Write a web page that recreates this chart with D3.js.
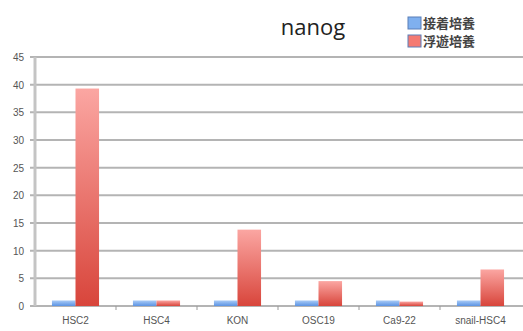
<!DOCTYPE html>
<html>
<head>
<meta charset="utf-8">
<script src="https://cdn.jsdelivr.net/npm/d3@7"></script>
<style>
  body { margin: 0; background: #fff; }
  svg text { font-family: "Liberation Sans", "Noto Sans CJK JP", sans-serif; }
</style>
</head>
<body>
<div id="chart"></div>
<script>
const categories = ['HSC2', 'HSC4', 'KON', 'OSC19', 'Ca9-22', 'snail-HSC4'];
const seriesNames = ['接着培養', '浮遊培養'];
const adherent = [1, 1, 1, 1, 1, 1];
const floating = [39.3, 1, 13.8, 4.5, 0.8, 6.6];
const yTicks = [0, 5, 10, 15, 20, 25, 30, 35, 40, 45];

const width = 523, height = 331;
const margin = { top: 57, right: 2, bottom: 25, left: 35 };

let svg = d3.select('#chart').append('svg')
    .attr('width', width)
    .attr('height', height);

let defs = svg.append('defs');
let gradients = [
    { id: 'grad-blue', top: '#a9cbf7', bottom: '#5b93e3' },
    { id: 'grad-red', top: '#fba6a2', bottom: '#d8453b' }
];
gradients.forEach(g => {
    let lg = defs.append('linearGradient')
        .attr('id', g.id)
        .attr('x1', 0).attr('y1', 0).attr('x2', 0).attr('y2', 1);
    lg.append('stop').attr('offset', '0%').attr('stop-color', g.top);
    lg.append('stop').attr('offset', '100%').attr('stop-color', g.bottom);
});

let x = d3.scaleBand()
    .domain(categories)
    .range([margin.left, width - margin.right])
    .paddingInner(0)
    .paddingOuter(0);

let xInner = d3.scaleBand()
    .domain(seriesNames)
    .range([0, x.bandwidth()])
    .paddingOuter(0.72)
    .paddingInner(0);

let y = d3.scaleLinear()
    .domain([0, 45])
    .range([height - margin.bottom, margin.top]);

// gridlines
svg.append('g')
    .selectAll('line')
    .data(yTicks)
    .enter()
    .append('line')
    .attr('x1', margin.left - 5)
    .attr('x2', width)
    .attr('y1', d => y(d))
    .attr('y2', d => y(d))
    .attr('stroke', '#b4b4b4')
    .attr('stroke-width', 2);

// y axis line
svg.append('line')
    .attr('x1', margin.left).attr('x2', margin.left)
    .attr('y1', y(45)).attr('y2', y(0))
    .attr('stroke', '#c4c4c4')
    .attr('stroke-width', 3);

// y tick labels
svg.append('g')
    .selectAll('text')
    .data(yTicks)
    .enter()
    .append('text')
    .attr('x', 24)
    .attr('y', d => y(d) + 4)
    .attr('text-anchor', 'end')
    .attr('font-size', 10)
    .attr('fill', '#555')
    .text(d => d);

// x tick marks between categories
svg.append('g')
    .selectAll('line')
    .data(categories.slice(1))
    .enter()
    .append('line')
    .attr('x1', d => x(d))
    .attr('x2', d => x(d))
    .attr('y1', y(0))
    .attr('y2', y(0) + 4)
    .attr('stroke', '#999')
    .attr('stroke-width', 1);

// bars
let data = categories.map((c, i) => ({ cat: c, values: [adherent[i], floating[i]] }));
let groups = svg.append('g')
    .selectAll('g')
    .data(data)
    .enter()
    .append('g')
    .attr('transform', d => `translate(${x(d.cat)},0)`);

groups.selectAll('rect')
    .data(d => d.values.map((v, j) => ({ name: seriesNames[j], value: v, j: j })))
    .enter()
    .append('rect')
    .attr('x', d => xInner(d.name))
    .attr('width', xInner.bandwidth())
    .attr('y', d => y(d.value))
    .attr('height', d => y(0) - y(d.value))
    .attr('fill', d => d.j === 0 ? 'url(#grad-blue)' : 'url(#grad-red)');

// x labels
svg.append('g')
    .selectAll('text')
    .data(categories)
    .enter()
    .append('text')
    .attr('x', d => x(d) + x.bandwidth() / 2)
    .attr('y', 324)
    .attr('text-anchor', 'middle')
    .attr('font-size', 10)
    .attr('fill', '#555')
    .text(d => d);

// title
svg.append('text')
    .attr('x', 313)
    .attr('y', 35)
    .attr('text-anchor', 'middle')
    .attr('font-size', 22)
    .attr('fill', '#222')
    .style('font-family', '"Open Sans", sans-serif')
    .text('nanog');

// legend
let legend = svg.append('g')
    .selectAll('g')
    .data(seriesNames)
    .enter()
    .append('g')
    .attr('transform', (d, i) => `translate(408, ${17 + i * 18})`);

legend.append('rect')
    .attr('width', 13)
    .attr('height', 12)
    .attr('fill', (d, i) => i === 0 ? '#7fb0ef' : '#f47a72')
    .attr('stroke', '#5a7fb8')
    .attr('stroke-width', 1);

legend.append('text')
    .attr('x', 15)
    .attr('y', 11)
    .attr('font-size', 13)
    .attr('fill', '#444')
    .style('font-family', '"Noto Sans CJK JP", sans-serif')
    .style('font-weight', 'bold')
    .text(d => d);
</script>
</body>
</html>
